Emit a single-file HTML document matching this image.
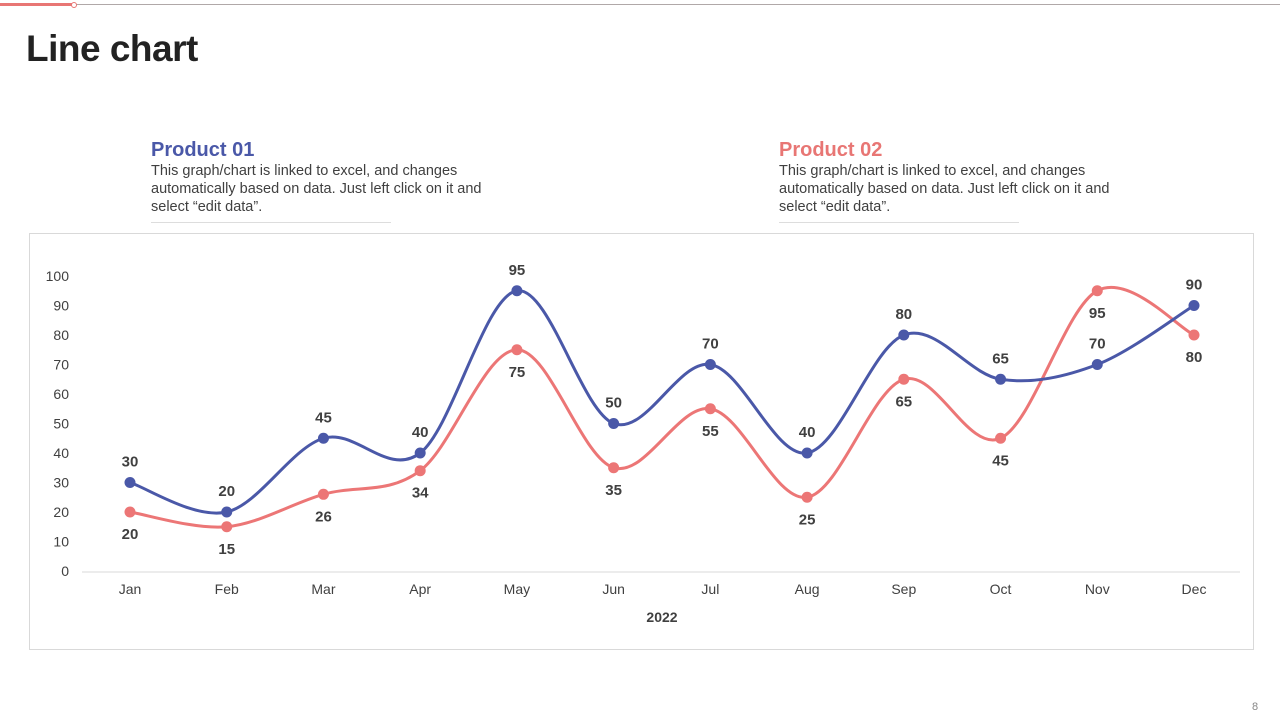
<!DOCTYPE html>
<html><head><meta charset="utf-8">
<style>
body{margin:0;width:1280px;height:720px;background:#fff;font-family:"Liberation Sans",sans-serif;position:relative;overflow:hidden}
.abs{position:absolute}
h1{position:absolute;left:26px;top:28px;margin:0;font-size:37px;font-weight:bold;color:#222;letter-spacing:-0.5px}
.pt{font-size:20px;font-weight:bold}
.pd{font-size:14.5px;color:#404040;line-height:18px;width:360px}
</style></head><body>
<div class="abs" style="left:0;top:4px;width:1280px;height:1px;background:#b0a8a8"></div>
<div class="abs" style="left:0;top:3px;width:72px;height:3px;background:#e87674"></div>
<div class="abs" style="left:71px;top:2px;width:4px;height:4px;border:1px solid #e87674;border-radius:50%;background:#fff"></div>
<h1>Line chart</h1>
<div class="abs" style="left:151px;top:139px">
 <div class="pt" style="color:#4a58a8">Product 01</div>
 <div class="pd">This graph/chart is linked to excel, and changes automatically based on data. Just left click on it and select “edit data”.</div>
 <div style="width:240px;height:1px;background:#ddd;margin-top:6px"></div>
</div>
<div class="abs" style="left:779px;top:139px">
 <div class="pt" style="color:#e87674">Product 02</div>
 <div class="pd">This graph/chart is linked to excel, and changes automatically based on data. Just left click on it and select “edit data”.</div>
 <div style="width:240px;height:1px;background:#ddd;margin-top:6px"></div>
</div>
<div class="abs" style="left:29px;top:233px;width:1223px;height:415px;border:1px solid #d9d9d9"></div>
<svg id="chart" class="abs" style="left:0;top:0" width="1280" height="720"></svg>
<div class="abs" style="left:1252px;top:701px;font-size:11px;color:#888">8</div>
<script>
const months=["Jan","Feb","Mar","Apr","May","Jun","Jul","Aug","Sep","Oct","Nov","Dec"];
const product01=[30,20,45,40,95,50,70,40,80,65,70,90];
const product02=[20,15,26,34,75,35,55,25,65,45,95,80];
const yTicks=[0,10,20,30,40,50,60,70,80,90,100];
const xLabel="2022";
const svg=document.getElementById('chart');
const NS="http://www.w3.org/2000/svg";
const x0=130,x1=1194,yBase=571,yTop=276;
const X=i=>x0+(x1-x0)*i/(months.length-1);
const Y=v=>yBase-(yBase-yTop)*v/100;
function mk(t,a,txt){const e=document.createElementNS(NS,t);for(const k in a)e.setAttribute(k,a[k]);if(txt!==undefined)e.textContent=txt;svg.appendChild(e);return e;}
let ax=mk('line',{x1:82,x2:1240,y1:572,y2:572,stroke:'#d9d9d9','stroke-width':1});


yTicks.forEach(v=>{const t=mk('text',{x:69,y:Y(v)+5,'text-anchor':'end','font-size':14,fill:'#404040','font-family':'Liberation Sans'},v);

});
months.forEach((m,i)=>{const t=mk('text',{x:X(i),y:594,'text-anchor':'middle','font-size':14,fill:'#404040','font-family':'Liberation Sans'},m);

});
const xt=mk('text',{x:662,y:622,'text-anchor':'middle','font-size':14,'font-weight':'bold',fill:'#404040','font-family':'Liberation Sans'},xLabel);


function smooth(vals){const p=vals.map((v,i)=>[X(i),Y(v)]);let d=`M${p[0][0]},${p[0][1]}`;const t=0.5/3*2;
for(let i=0;i<p.length-1;i++){const a=p[Math.max(i-1,0)],b=p[i],c=p[i+1],e=p[Math.min(i+2,p.length-1)];
const c1=[b[0]+(c[0]-a[0])*t/2,b[1]+(c[1]-a[1])*t/2],c2=[c[0]-(e[0]-b[0])*t/2,c[1]-(e[1]-b[1])*t/2];
d+=` C${c1[0]},${c1[1]} ${c2[0]},${c2[1]} ${c[0]},${c[1]}`;}return d;}
function series(vals,color,name,above){
 const l=mk('path',{d:smooth(vals),fill:'none',stroke:color,'stroke-width':3});
 
 
 vals.forEach((v,i)=>{const c=mk('circle',{cx:X(i),cy:Y(v),r:5.5,fill:color});
 
 
 const t=mk('text',{x:X(i),y:Y(v)+(above?-16:27),'text-anchor':'middle','font-size':15,'font-weight':'bold',fill:'#404040','font-family':'Liberation Sans'},v);
 
 });
}
series(product02,'#ec7676','product-02',false);
series(product01,'#4a58a8','product-01',true);
</script>
</body></html>
